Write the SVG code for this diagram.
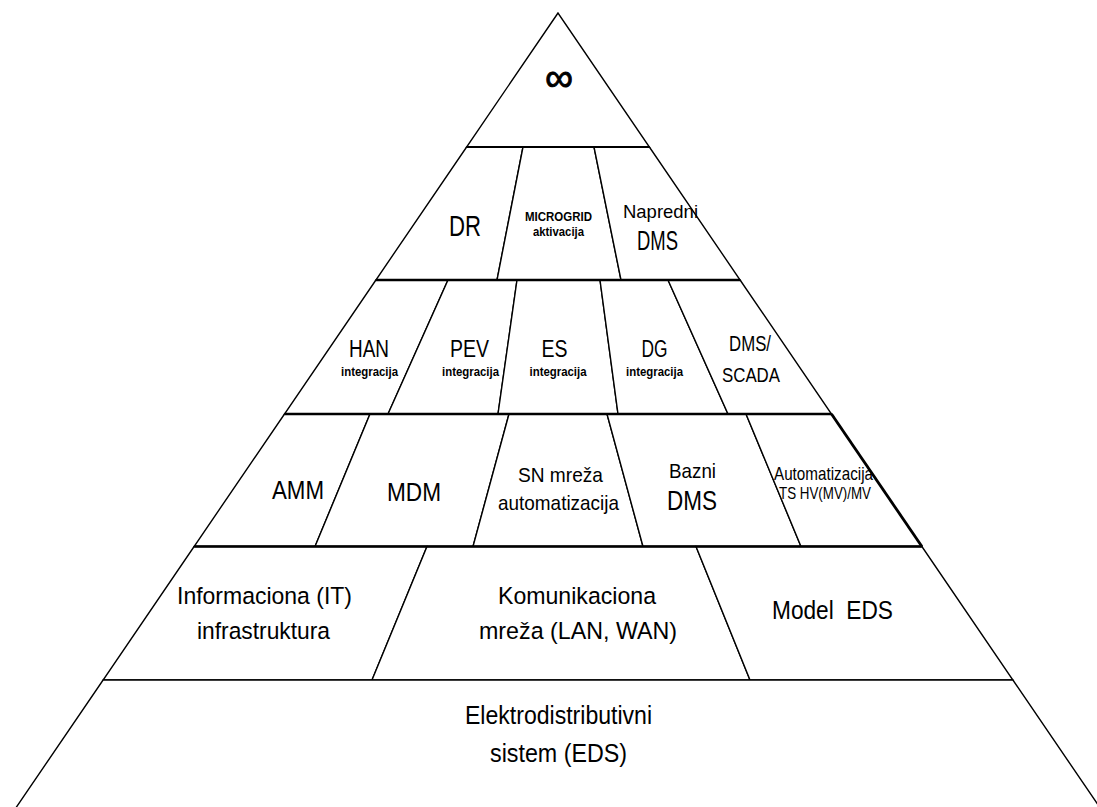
<svg xmlns="http://www.w3.org/2000/svg" width="1097" height="807" viewBox="0 0 1097 807">
<style>
.cell{fill:#fff;stroke:#000;stroke-width:1.4;stroke-linejoin:miter}
.t{font-family:"Liberation Sans",Arial,sans-serif;fill:#000;text-anchor:middle}
.b{font-weight:bold}
.hl{stroke:#000;fill:none}
</style>
<rect width="1097" height="807" fill="#fff"/>
<g id="apex">
<polygon class="cell" points="558,13 466.6,147 649.4,147"/>
<text class="t" x="559" y="91" font-size="40" textLength="28" lengthAdjust="spacingAndGlyphs" stroke="#000" stroke-width="0.9">∞</text>
</g>
<g id="dr">
<polygon class="cell" points="466.6,147 523,147 497,280 375.9,280"/>
<text class="t" x="465" y="236" font-size="29" textLength="32" lengthAdjust="spacingAndGlyphs">DR</text>
</g>
<g id="microgrid">
<polygon class="cell" points="523,147 594,147 621,280 497,280"/>
<text class="t b" x="558.5" y="221" font-size="13" textLength="67" lengthAdjust="spacingAndGlyphs">MICROGRID</text>
<text class="t b" x="558.5" y="236" font-size="13" textLength="51" lengthAdjust="spacingAndGlyphs">aktivacija</text>
</g>
<g id="napredni-dms">
<polygon class="cell" points="594,147 649.4,147 740.1,280 621,280"/>
<text class="t" x="660.5" y="217.5" font-size="19" textLength="75" lengthAdjust="spacingAndGlyphs">Napredni</text>
<text class="t" x="657.5" y="249.5" font-size="27" textLength="41" lengthAdjust="spacingAndGlyphs">DMS</text>
</g>
<g id="han">
<polygon class="cell" points="375.9,280 448,280 388,414 284.5,414"/>
<text class="t" x="369" y="357.3" font-size="23" textLength="40" lengthAdjust="spacingAndGlyphs">HAN</text>
<text class="t b" x="369.5" y="376" font-size="13" textLength="57" lengthAdjust="spacingAndGlyphs">integracija</text>
</g>
<g id="pev">
<polygon class="cell" points="448,280 517,280 498,414 388,414"/>
<text class="t" x="469.5" y="357.3" font-size="23" textLength="39" lengthAdjust="spacingAndGlyphs">PEV</text>
<text class="t b" x="470.5" y="376" font-size="13" textLength="57" lengthAdjust="spacingAndGlyphs">integracija</text>
</g>
<g id="es">
<polygon class="cell" points="517,280 600,280 618,414 498,414"/>
<text class="t" x="554.5" y="357.3" font-size="23" textLength="26" lengthAdjust="spacingAndGlyphs">ES</text>
<text class="t b" x="558" y="376" font-size="13" textLength="57" lengthAdjust="spacingAndGlyphs">integracija</text>
</g>
<g id="dg">
<polygon class="cell" points="600,280 668,280 728,414 618,414"/>
<text class="t" x="654.5" y="357.3" font-size="23" textLength="26" lengthAdjust="spacingAndGlyphs">DG</text>
<text class="t b" x="654.5" y="376" font-size="13" textLength="57" lengthAdjust="spacingAndGlyphs">integracija</text>
</g>
<g id="dms-scada">
<polygon class="cell" points="668,280 740.1,280 831.5,414 728,414"/>
<text class="t" x="750" y="351" font-size="21.5" textLength="42" lengthAdjust="spacingAndGlyphs">DMS/</text>
<text class="t" x="751" y="382" font-size="21" textLength="58" lengthAdjust="spacingAndGlyphs">SCADA</text>
</g>
<g id="amm">
<polygon class="cell" points="284.5,414 370,414 315,546.5 194.1,546.5"/>
<text class="t" x="298" y="498.7" font-size="26" textLength="52" lengthAdjust="spacingAndGlyphs">AMM</text>
</g>
<g id="mdm">
<polygon class="cell" points="370,414 509,414 473,546.5 315,546.5"/>
<text class="t" x="414" y="500.7" font-size="26.5" textLength="54" lengthAdjust="spacingAndGlyphs">MDM</text>
</g>
<g id="sn-mreza">
<polygon class="cell" points="509,414 607,414 643,546.5 473,546.5"/>
<text class="t" x="560.5" y="481.7" font-size="21" textLength="85" lengthAdjust="spacingAndGlyphs">SN mreža</text>
<text class="t" x="558.5" y="510" font-size="21" textLength="121" lengthAdjust="spacingAndGlyphs">automatizacija</text>
</g>
<g id="bazni-dms">
<polygon class="cell" points="607,414 746,414 801,546.5 643,546.5"/>
<text class="t" x="692.5" y="478" font-size="21" textLength="47" lengthAdjust="spacingAndGlyphs">Bazni</text>
<text class="t" x="692" y="510" font-size="27" textLength="50" lengthAdjust="spacingAndGlyphs">DMS</text>
</g>
<g id="automatizacija-ts">
<polygon class="cell" points="746,414 831.5,414 921.9,546.5 801,546.5"/>
<text class="t" x="823.5" y="480" font-size="19" textLength="99" lengthAdjust="spacingAndGlyphs">Automatizacija</text>
<text class="t" x="825" y="499" font-size="16.5" textLength="92" lengthAdjust="spacingAndGlyphs">TS HV(MV)/MV</text>
</g>
<g id="it">
<polygon class="cell" points="194.1,546.5 427,546.5 372,680 103.1,680"/>
<text class="t" x="264.5" y="604.3" font-size="24.5" textLength="175" lengthAdjust="spacingAndGlyphs">Informaciona (IT)</text>
<text class="t" x="263.5" y="639.3" font-size="24.5" textLength="133" lengthAdjust="spacingAndGlyphs">infrastruktura</text>
</g>
<g id="komunikaciona">
<polygon class="cell" points="427,546.5 696,546.5 750,680 372,680"/>
<text class="t" x="577" y="604.3" font-size="24.5" textLength="158" lengthAdjust="spacingAndGlyphs">Komunikaciona</text>
<text class="t" x="578" y="639.3" font-size="24.5" textLength="198" lengthAdjust="spacingAndGlyphs">mreža (LAN, WAN)</text>
</g>
<g id="model-eds">
<polygon class="cell" points="696,546.5 921.9,546.5 1012.9,680 750,680"/>
<text class="t" x="832.5" y="619" font-size="26.5" textLength="121" lengthAdjust="spacingAndGlyphs" xml:space="preserve">Model  EDS</text>
</g>
<g id="eds">
<polygon class="cell" points="103.1,680 1012.9,680 1108.4,820 7.6,820"/>
<text class="t" x="558.5" y="724.3" font-size="26.5" textLength="187" lengthAdjust="spacingAndGlyphs">Elektrodistributivni</text>
<text class="t" x="558.5" y="761.7" font-size="26.5" textLength="137" lengthAdjust="spacingAndGlyphs">sistem (EDS)</text>
</g>
<g id="connectors">
<line class="hl" x1="466.6" y1="147" x2="649.4" y2="147" stroke-width="2"/>
<line class="hl" x1="375.9" y1="280" x2="740.1" y2="280" stroke-width="2.3"/>
<line class="hl" x1="284.5" y1="414" x2="831.5" y2="414" stroke-width="2.3"/>
<line class="hl" x1="194.1" y1="546.5" x2="921.9" y2="546.5" stroke-width="2.6"/>
<line class="hl" x1="831.5" y1="414" x2="921.9" y2="546.5" stroke-width="2.8"/>
</g>
</svg>
